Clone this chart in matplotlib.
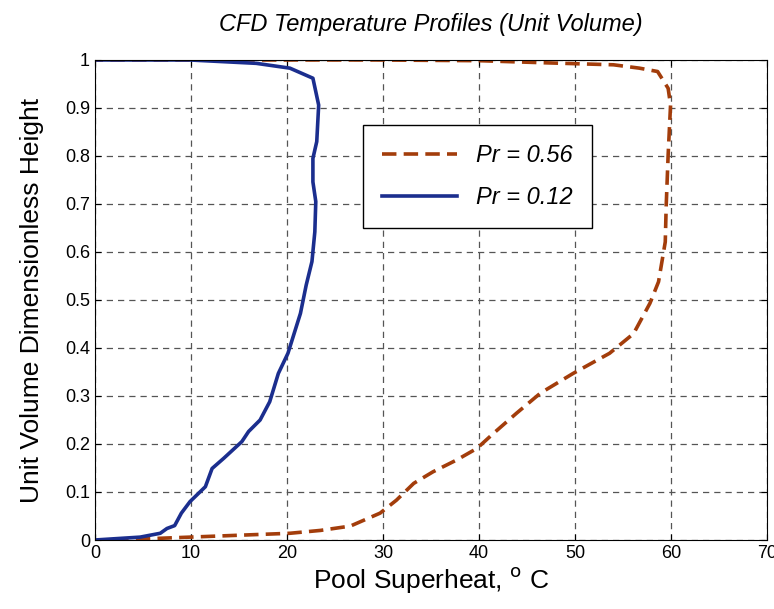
import numpy as np
import matplotlib
matplotlib.use('Agg')
import matplotlib.pyplot as plt

plt.rcParams['font.family'] = ['Liberation Sans', 'DejaVu Sans']

# Pr = 0.56 profile (superheat in C, dimensionless height)
x_056 = [2.0, 4.7, 9.9, 15.1, 20.3, 23.5, 26.6, 29.7, 31.4, 33.2, 35.2, 37.7, 39.8,
         41.5, 43.9, 46.4, 49.8, 53.6, 56.1, 57.8, 58.7, 59.4, 59.5, 59.7, 59.95,
         59.7, 58.6, 56.7, 54.0, 47.1, 40.1, 29.7, 20.0, 10.0, 0.0]
y_056 = [0.0, 0.002, 0.006, 0.010, 0.014, 0.020, 0.029, 0.056, 0.083, 0.118, 0.142,
         0.167, 0.191, 0.222, 0.264, 0.306, 0.347, 0.389, 0.43, 0.493, 0.538, 0.621,
         0.698, 0.802, 0.906, 0.941, 0.976, 0.983, 0.990, 0.994, 0.9985, 1.0, 1.0,
         1.0, 1.0]

# Pr = 0.12 profile
x_012 = [0.0, 4.7, 6.8, 7.5, 8.3, 9.0, 9.9, 11.5, 12.2, 13.4, 15.3, 16.0, 17.2, 18.2,
         19.1, 20.1, 21.4, 22.0, 22.6, 22.9, 23.0, 22.7, 22.7, 23.1, 23.3, 22.7, 20.3,
         16.8, 9.9, 0.0]
y_012 = [0.0, 0.006, 0.014, 0.024, 0.03, 0.056, 0.08, 0.111, 0.149, 0.17, 0.205, 0.226,
         0.25, 0.288, 0.347, 0.389, 0.472, 0.531, 0.58, 0.642, 0.705, 0.746, 0.795,
         0.830, 0.906, 0.962, 0.983, 0.993, 1.0, 1.0]

xticks = np.arange(0, 71, 10)
yticks = np.round(np.arange(0, 1.01, 0.1), 1)
ytick_labels = ['0'] + ['%.1f' % v for v in yticks[1:-1]] + ['1']

fig = plt.figure(figsize=(7.74, 6.09), dpi=100)
ax = fig.add_axes([0.1227, 0.1133, 0.8683, 0.7882])

ax.plot(x_056, y_056, color='#A33D0B', lw=2.6, ls=(0, (4, 2)), label='Pr = 0.56')
ax.plot(x_012, y_012, color='#1B2E8E', lw=2.6, label='Pr = 0.12')

ax.set_xlim(0, 70)
ax.set_ylim(0, 1)
ax.set_xticks(xticks)
ax.set_yticks(yticks)
ax.set_yticklabels(ytick_labels)
ax.tick_params(direction='in', top=True, right=True, labelsize=13, length=4)
ax.grid(True, color='#555555', ls=(0, (5, 4)), lw=0.9)

ax.set_title('CFD Temperature Profiles (Unit Volume)', fontsize=17, style='italic', pad=21)
ax.set_xlabel('Pool Superheat, $^{\\mathrm{o}}$ C', fontsize=19, labelpad=2)
ax.set_ylabel('Unit Volume Dimensionless Height', fontsize=19, labelpad=15)

leg = ax.legend(loc='upper left', bbox_to_anchor=(0.381, 0.889),
                prop={'style': 'italic', 'size': 17},
                fancybox=False, framealpha=1, edgecolor='black', handlelength=3.2,
                borderpad=0.8, labelspacing=0.8)
leg.get_frame().set_linewidth(1.0)

fig.savefig('out.png', dpi=100)
